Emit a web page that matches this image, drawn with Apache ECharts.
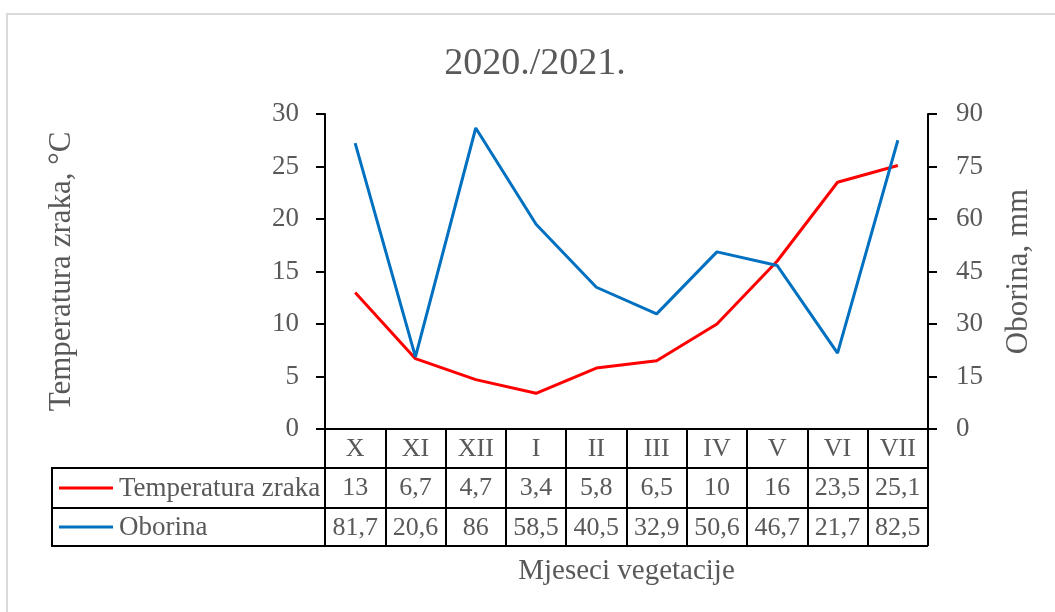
<!DOCTYPE html>
<html>
<head>
<meta charset="utf-8">
<script src="https://cdn.jsdelivr.net/npm/echarts@6/dist/echarts.min.js"></script>
<style>
  html, body { margin: 0; padding: 0; background: #fff; }
  #chart { width: 1055px; height: 612px; }
</style>
</head>
<body>
<div id="chart"></div>
<script>
// podaci
const months = ['X', 'XI', 'XII', 'I', 'II', 'III', 'IV', 'V', 'VI', 'VII'];
const temperatura = [13, 6.7, 4.7, 3.4, 5.8, 6.5, 10, 16, 23.5, 25.1];
const oborina = [81.7, 20.6, 86, 58.5, 40.5, 32.9, 50.6, 46.7, 21.7, 82.5];
const tempTicks = [0, 30, 5];
const oborTicks = [0, 90, 15];

const FONT = '"Liberation Serif", "Times New Roman", serif';
const GREY = '#595959';
const RED = '#FF0000';
const BLUE = '#0070C0';

// decimal comma like in the table
const fmt = v => String(v).replace('.', ',');

const chart = echarts.init(document.getElementById('chart'));

const tableAxis = (values, offset) => ({
    type: 'category',
    position: 'bottom',
    offset: offset,
    data: values.map(fmt),
    axisLine: { show: false },
    axisTick: { show: false },
    axisLabel: { interval: 0, margin: 7, color: GREY, fontFamily: FONT, fontSize: 26 },
    splitLine: { show: false }
});

const option = {
    animation: false,
    backgroundColor: '#fff',
    title: {
        text: '2020./2021.',
        left: 530,
        top: 40,
        textAlign: 'center',
        textStyle: { color: GREY, fontFamily: FONT, fontSize: 38, fontWeight: 'normal' }
    },
    grid: { left: 325, right: 127, top: 114, bottom: 183 },
    xAxis: [
        {
            type: 'category',
            data: months,
            boundaryGap: true,
            name: 'Mjeseci vegetacije',
            nameLocation: 'middle',
            nameGap: 128,
            nameTextStyle: { color: GREY, fontFamily: FONT, fontSize: 29 },
            axisLine: { lineStyle: { color: '#000', width: 2 } },
            axisTick: { show: true, length: 117, lineStyle: { color: '#000', width: 2 } },
            axisLabel: { interval: 0, margin: 7, color: GREY, fontFamily: FONT, fontSize: 26 }
        },
        tableAxis(temperatura, 39),
        tableAxis(oborina, 79)
    ],
    yAxis: [
        {
            type: 'value',
            min: tempTicks[0], max: tempTicks[1], interval: tempTicks[2],
            name: 'Temperatura zraka, °C',
            nameLocation: 'middle',
            nameRotate: 90,
            nameGap: 248,
            nameTextStyle: { color: GREY, fontFamily: FONT, fontSize: 31 },
            axisLine: { show: true, lineStyle: { color: '#000', width: 2 } },
            axisTick: { show: true, length: 9, lineStyle: { color: '#000', width: 2 } },
            axisLabel: { margin: 26, color: GREY, fontFamily: FONT, fontSize: 27 },
            splitLine: { show: false }
        },
        {
            type: 'value',
            position: 'right',
            min: oborTicks[0], max: oborTicks[1], interval: oborTicks[2],
            name: 'Oborina, mm',
            nameLocation: 'middle',
            nameRotate: 90,
            nameGap: 75,
            nameTextStyle: { color: GREY, fontFamily: FONT, fontSize: 31 },
            axisLine: { show: true, lineStyle: { color: '#000', width: 2 } },
            axisTick: { show: true, length: 9, lineStyle: { color: '#000', width: 2 } },
            axisLabel: { margin: 28, color: GREY, fontFamily: FONT, fontSize: 27 },
            splitLine: { show: false }
        }
    ],
    series: [
        {
            name: 'Temperatura zraka',
            type: 'line',
            yAxisIndex: 0,
            data: temperatura,
            showSymbol: false,
            lineStyle: { color: RED, width: 3 },
            itemStyle: { color: RED }
        },
        {
            name: 'Oborina',
            type: 'line',
            yAxisIndex: 1,
            data: oborina,
            showSymbol: false,
            lineStyle: { color: BLUE, width: 3 },
            itemStyle: { color: BLUE }
        }
    ],
    graphic: [
        // okvir
        { type: 'rect', shape: { x: 7, y: 14, width: 1100, height: 700 }, style: { fill: null, stroke: '#d9d9d9', lineWidth: 2 }, silent: true },
        // table lines
        { type: 'line', shape: { x1: 52, y1: 468, x2: 928, y2: 468 }, style: { stroke: '#000', lineWidth: 2 } },
        { type: 'line', shape: { x1: 52, y1: 508, x2: 928, y2: 508 }, style: { stroke: '#000', lineWidth: 2 } },
        { type: 'line', shape: { x1: 52, y1: 546, x2: 928, y2: 546 }, style: { stroke: '#000', lineWidth: 2 } },
        { type: 'line', shape: { x1: 52, y1: 467, x2: 52, y2: 547 }, style: { stroke: '#000', lineWidth: 2 } },
        // legend keys
        { type: 'line', shape: { x1: 59, y1: 488, x2: 113, y2: 488 }, style: { stroke: RED, lineWidth: 3 } },
        { type: 'line', shape: { x1: 59, y1: 527, x2: 113, y2: 527 }, style: { stroke: BLUE, lineWidth: 3 } },
        { type: 'text', x: 119, y: 489, style: { text: 'Temperatura zraka', fill: GREY, font: '27px ' + FONT, textVerticalAlign: 'middle' } },
        { type: 'text', x: 119, y: 528, style: { text: 'Oborina', fill: GREY, font: '27px ' + FONT, textVerticalAlign: 'middle' } }
    ]
};

chart.setOption(option);
</script>
</body>
</html>
